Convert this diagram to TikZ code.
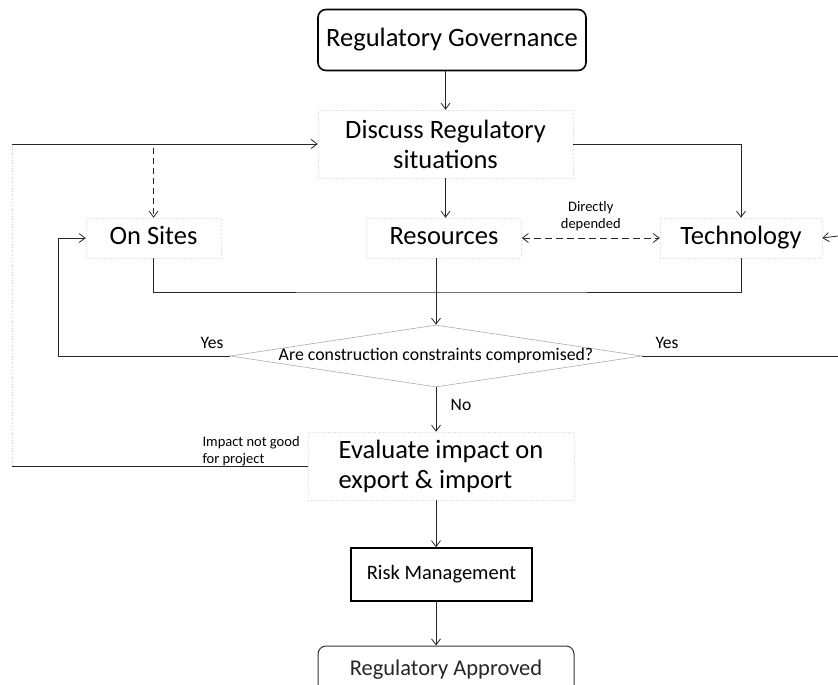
\documentclass[tikz,border=0pt]{standalone}
\usepackage{fontspec}
\setmainfont{Carlito}
\usetikzlibrary{arrows.meta,shapes.geometric}

\begin{document}
\begin{tikzpicture}[x=1pt,y=-1pt,
  conn/.style={line width=0.8pt,draw=black!85},
  arr/.style={conn,-{Straight Barb[length=6pt,width=9pt]}},
  biarr/.style={conn,{Straight Barb[length=6pt,width=9pt]}-{Straight Barb[length=6pt,width=9pt]}},
  faintbox/.style={draw=gray!28,dotted,line width=0.5pt,inner sep=0pt},
  oneline/.style={text height=19pt,text depth=6pt},
  big/.style={font=\fontsize{26.5}{30}\selectfont},
  small/.style={font=\fontsize{14.5}{17}\selectfont},
  mid/.style={font=\fontsize{17.5}{20}\selectfont},
  roundbox/.style={draw=black,rounded corners=8pt,inner sep=0pt}
]
\useasboundingbox (0,0) rectangle (838,685);
\clip (0,0) rectangle (838,685);

% process boxes
\node[roundbox,line width=1.6pt,minimum width=268,minimum height=61,big] (gov) at (452,40) {Regulatory Governance};
\node[faintbox,minimum width=255,minimum height=68,big,align=center] (disc) at (445.5,144) {Discuss Regulatory\\situations};
\node[faintbox,oneline,minimum width=135,minimum height=40,big] (sites) at (153.5,238) {On Sites};
\node[faintbox,oneline,minimum width=155,minimum height=40,big] (res) at (444,238) {Resources};
\node[faintbox,oneline,minimum width=162,minimum height=40,big] (tech) at (741,238) {Technology};

% decision
\node[diamond,draw=gray!65,line width=0.6pt,minimum width=412,minimum height=62,inner sep=0pt] (q) at (436,356) {};
\node[font=\fontsize{17.8}{20}\selectfont] (qt) at (q.center) {Are construction constraints compromised?};

\node[faintbox,minimum width=266,minimum height=68,big,align=left] (eval) at (441,466) {Evaluate impact on\\export \& import};
\node[draw=black,line width=1.4pt,minimum width=181,minimum height=53,inner sep=0pt,font=\fontsize{20.5}{24}\selectfont] (risk) at (441.5,574.5) {Risk Management};
\node[roundbox,line width=1pt,draw=black!80,minimum width=256,minimum height=48,font=\fontsize{22.5}{26}\selectfont,text=black!85] (appr) at (446,670) {Regulatory Approved};

% helper points of the feedback loops
\coordinate (lb) at (12,466);
\coordinate (lt) at (12,144);
\coordinate (dtop) at (153.5,148);
\coordinate (ly) at (58,0);
\coordinate (jn) at (436,292);
\coordinate (re) at (838,0);
\coordinate (rin) at (838,236);

% main flow
\draw[arr] (disc.north |- gov.south) -- (disc.north);
\draw[arr] (disc.south) -- (disc.south |- res.north);
\draw[arr] (disc.east) -| (tech.north);
\draw[conn] (sites.south) |- (jn) -| (tech.south);
\draw[arr] (q.north |- res.south) -- (q.north);
\draw[arr] (q.south) -- (q.south |- eval.north);
\draw[arr] (eval.south -| q.south) -- (risk.north -| q.south);
\draw[arr] (risk.south -| q.south) -- (appr.north -| q.south);

% dependency between resources and technology
\draw[biarr,dashed,dash pattern=on 7pt off 4pt] (res.east) -- node[above=3pt,small,align=center] (dd) {Directly\\depended} (tech.west);

% loop back from the evaluation
\draw[conn] (eval.west) -- (lb);
\draw[conn,draw=gray!40,dotted] (lb) -- (lt);
\draw[arr] (lt) -- (disc.west);
\draw[arr,dashed,dash pattern=on 6pt off 4pt] (dtop) -- (sites.north);
\node[small,align=left,anchor=west] (imp) at (199,451) {Impact not good\\for project};

% "Yes" branches of the decision
\draw[arr] (q.west) -- (q.west -| ly) |- (sites.west);
\draw[conn] (q.east) -- (q.east -| re);
\draw[arr] (rin) -- (tech.east);
\node[mid] (yl) at (212,343) {Yes};
\node[mid] (yr) at (667,343) {Yes};
\node[mid] (no) at (461,405) {No};
\end{tikzpicture}
\end{document}
